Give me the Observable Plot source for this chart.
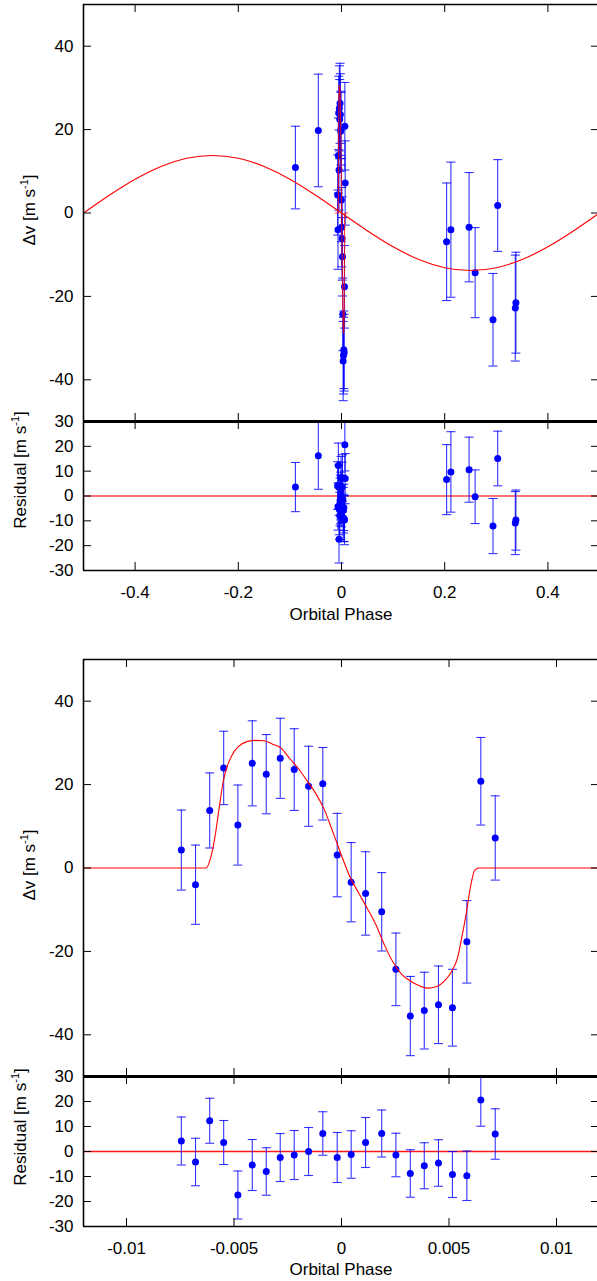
<!DOCTYPE html>
<html>
<head>
<meta charset="utf-8">
<script src="https://cdn.jsdelivr.net/npm/d3@7"></script>
<script src="https://cdn.jsdelivr.net/npm/@observablehq/plot@0.6"></script>
<style>
  html, body { margin: 0; padding: 0; background: #fff; overflow: hidden; }
  #root { position: relative; width: 597px; height: 1281px; overflow: hidden; font-family: "Liberation Sans", Arial, sans-serif; }
  #root svg { position: absolute; left: 0; overflow: visible; }
  .ttl { position: absolute; font-size: 17px; color: #000; white-space: nowrap; transform: translate(-50%, -50%); }
  .rot { transform: translate(-50%, -50%) rotate(-90deg); }
  sup { font-size: 11px; vertical-align: 7px; line-height: 0; }
</style>
</head>
<body>
<div id="root"></div>
<script>
// ---- Rossiter-McLaughlin (in-transit) measurements ----
const rmPhase = [-0.00745,-0.00679,-0.00613,-0.00548,-0.00482,-0.00415,-0.0035,-0.00285,-0.0022,-0.00153,-0.00087,-0.0002,0.00045,0.00112,0.00187,0.00253,0.0032,0.00385,0.00451,0.00516,0.00583,0.00648,0.00715];
const rmRV    = [4.3,-4.0,13.8,24.0,10.3,25.1,22.5,26.3,23.6,19.6,20.2,3.1,-3.4,-6.1,-10.5,-24.3,-35.5,-34.2,-32.8,-33.5,-17.7,20.8,7.2];
const rmErr   = [9.6,9.5,9.0,8.8,9.6,10.2,9.5,9.6,9.8,9.6,8.7,10.0,9.5,10.0,9.4,8.7,9.5,9.2,9.3,9.2,9.9,10.5,10.1];
const rmResid = [4.2,-4.2,12.3,3.6,-17.4,-5.4,-8.0,-2.4,-1.4,0.0,7.2,-2.4,-1.2,3.6,7.2,-1.4,-8.8,-5.7,-4.6,-9.2,-9.7,20.6,7.0];

// ---- out-of-transit measurements ----
const offPhase = [-0.0893,-0.0449,0.2037,0.212,0.2473,0.259,0.2936,0.3027,0.338,0.3368];
const offRV    = [10.9,19.8,-6.9,-4.0,-3.4,-14.3,-25.6,1.8,-21.5,-22.8];
const offErr   = [9.9,13.5,14.1,16.2,13.1,10.8,11.1,11.0,12.1,12.7];
const offResid = [3.6,16.2,6.6,9.7,10.6,-0.3,-12.1,15.1,-9.7,-10.9];

// ---- orbital model curve ----
const kepPhase = [-0.5,-0.45,-0.4,-0.35,-0.3,-0.25,-0.2,-0.15,-0.1,-0.05,0,0.05,0.1,0.15,0.2,0.25,0.3,0.35,0.4,0.45,0.5];
const kepRV    = [0,4.26,8.11,11.16,13.12,13.8,13.12,11.16,8.11,4.26,0,-4.26,-8.11,-11.16,-13.12,-13.8,-13.12,-11.16,-8.11,-4.26,0];

// ---- RM model curve ----
const rmmPhase = [-0.012,-0.0063,-0.0061,-0.0059,-0.0057,-0.0055,-0.0053,-0.0051,-0.0048,-0.0044,-0.004,-0.0036,-0.0032,-0.0028,-0.0024,-0.002,-0.0016,-0.0012,-0.0008,-0.0004,0,0.0004,0.0008,0.0012,0.0016,0.002,0.0024,0.0028,0.0032,0.0036,0.004,0.0044,0.0048,0.0051,0.0054,0.0056,0.0058,0.006,0.0062,0.0064,0.012];
const rmmRV    = [0,0,2.2,7,14,20.8,24.6,27,29.1,30.3,30.6,30.5,29.7,28.7,26.2,23.8,20.9,17.9,14,8.6,3,-2.2,-6,-9.7,-13.6,-18.5,-22.6,-25.5,-27.1,-28.2,-28.8,-28.5,-27,-25,-21.5,-16.5,-11,-4.5,-0.5,0,0];

// ---- ticks ----
const rvTicks = [-40,-20,0,20,40];
const resTicks = [-30,-20,-10,0,10,20,30];
const fullXTicks = [-0.4,-0.2,0,0.2,0.4];
const zoomXTicks = [-0.01,-0.005,0,0.005,0.01];

const rmData = rmPhase.map((p,i) => ({p, v: rmRV[i], e: rmErr[i], r: rmResid[i]}));
const offData = offPhase.map((p,i) => ({p, v: offRV[i], e: offErr[i], r: offResid[i]}));
const allData = offData.concat(rmData);
const kepModel = kepPhase.map((p,i) => ({p, v: kepRV[i]}));
const rmModel = rmmPhase.map((p,i) => ({p, v: rmmRV[i]}));

const BLUE = "#0000ff", RED = "#ff0000";
const W = 597, ML = 83, MR = -2;
const FW = W - ML - MR;
const capSymbol = { draw(ctx, size) { const w = Math.sqrt(size / Math.PI); ctx.moveTo(-w, 0); ctx.lineTo(w, 0); } };

function dataMarks(data, key) {
  const val = d => d[key];
  return [
    Plot.ruleX(data, {x: "p", y1: d => val(d) - d.e, y2: d => val(d) + d.e, stroke: BLUE, strokeOpacity: 0.8, strokeWidth: 1.1, clip: true}),
    Plot.dot(data, {x: "p", y: d => val(d) + d.e, symbol: capSymbol, r: 4.5, stroke: BLUE, strokeOpacity: 0.8, fill: "none", strokeWidth: 1.1, clip: true}),
    Plot.dot(data, {x: "p", y: d => val(d) - d.e, symbol: capSymbol, r: 4.5, stroke: BLUE, strokeOpacity: 0.8, fill: "none", strokeWidth: 1.1, clip: true}),
    Plot.dot(data, {x: "p", y: val, r: 3.5, fill: BLUE, stroke: "none", clip: true})
  ];
}

function panel(o) {
  const fh = o.height - o.mt - o.mb;
  const marks = [
    ...(o.before || []),
    ...o.data,
    ...(o.after || []),
    Plot.tickY(o.yTicks, {y: d => d, insetRight: FW - 8, stroke: "#000"}),
    Plot.tickY(o.yTicks, {y: d => d, insetLeft: FW - 8, stroke: "#000"}),
    Plot.tickX(o.xTicks, {x: d => d, insetBottom: fh - 8, stroke: "#000"}),
    Plot.tickX(o.xTicks, {x: d => d, insetTop: fh - 8, stroke: "#000"}),
    Plot.ruleY([o.yDomain[1]], {stroke: "#000", strokeWidth: o.topW}),
    Plot.ruleY([o.yDomain[0]], {stroke: "#000", strokeWidth: o.botW}),
    Plot.ruleX(o.xDomain, {stroke: "#000", strokeWidth: 1.6})
  ];
  const svg = Plot.plot({
    width: W, height: o.height,
    marginLeft: ML, marginRight: MR, marginTop: o.mt, marginBottom: o.mb,
    style: {fontFamily: "'Liberation Sans', Arial, sans-serif", fontSize: "17px", color: "#000", background: "transparent", overflow: "visible"},
    x: o.showX
      ? {domain: o.xDomain, ticks: o.xTicks, tickFormat: d => String(d), tickSize: 0, tickPadding: 15, label: null}
      : {domain: o.xDomain, axis: null},
    y: {domain: o.yDomain, ticks: o.yTicks, tickFormat: d => String(d), tickSize: 0, tickPadding: 10, label: null},
    marks
  });
  svg.style.top = o.top + "px";
  document.getElementById("root").appendChild(svg);
}

// Panel 1: full orbit RV
panel({
  top: 0, height: 421, mt: 4, mb: 0, topW: 1.6, botW: 3,
  xDomain: [-0.5, 0.5], xTicks: fullXTicks, yDomain: [-50, 50], yTicks: rvTicks, showX: false,
  data: dataMarks(allData, "v"),
  after: [
    Plot.line(kepModel, {x: "p", y: "v", stroke: RED, strokeWidth: 1.1, curve: "natural"}),
    Plot.line(rmModel, {x: "p", y: "v", stroke: RED, strokeWidth: 1.1, strokeOpacity: 0.8})
  ]
});
// Panel 2: full orbit residuals
panel({
  top: 421, height: 209, mt: 0, mb: 60, topW: 3, botW: 1.6,
  xDomain: [-0.5, 0.5], xTicks: fullXTicks, yDomain: [-30, 30], yTicks: resTicks, showX: true,
  before: [Plot.ruleY([0], {stroke: RED, strokeWidth: 2, strokeOpacity: 0.55})],
  data: dataMarks(allData, "r")
});
// Panel 3: transit zoom RV
panel({
  top: 630, height: 446, mt: 29, mb: 0, topW: 1.6, botW: 3,
  xDomain: [-0.012, 0.012], xTicks: zoomXTicks, yDomain: [-50, 50], yTicks: rvTicks, showX: false,
  data: dataMarks(rmData, "v"),
  after: [Plot.line(rmModel, {x: "p", y: "v", stroke: RED, strokeWidth: 1.1, curve: "monotone-x"})]
});
// Panel 4: transit zoom residuals
panel({
  top: 1076, height: 205, mt: 0, mb: 55, topW: 3, botW: 1.6,
  xDomain: [-0.012, 0.012], xTicks: zoomXTicks, yDomain: [-30, 30], yTicks: resTicks, showX: true,
  before: [Plot.ruleY([0], {stroke: RED, strokeWidth: 1.6, strokeOpacity: 0.9})],
  data: dataMarks(rmData, "r")
});

// Axis titles
const root = document.getElementById("root");
function title(html, x, y, rot) {
  const d = document.createElement("div");
  d.className = "ttl" + (rot ? " rot" : "");
  d.style.left = x + "px"; d.style.top = y + "px";
  d.innerHTML = html;
  root.appendChild(d);
}
title("Δv [m s<sup>-1</sup>]", 30, 210, true);
title("Residual [m s<sup>-1</sup>]", 21, 470, true);
title("Orbital Phase", 341, 615, false);
title("Δv [m s<sup>-1</sup>]", 30, 865, true);
title("Residual [m s<sup>-1</sup>]", 21, 1127, true);
title("Orbital Phase", 341, 1270, false);
</script>
</body>
</html>
